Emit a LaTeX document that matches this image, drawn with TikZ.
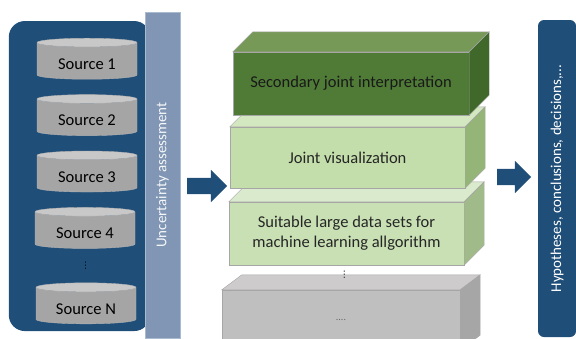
\documentclass[tikz,border=0pt]{standalone}
\usepackage{fontspec}
\setmainfont{Carlito}
\newfontfamily\symfont{DejaVu Sans}
\usetikzlibrary{positioning,fit,backgrounds,calc,shapes.geometric,shapes.arrows}
\definecolor{panelblue}{RGB}{31,78,121}
\definecolor{barblue}{RGB}{128,150,180}
\definecolor{barline}{RGB}{170,187,208}
\definecolor{dkgreen}{RGB}{79,123,55}
\definecolor{dkgreentop}{RGB}{118,153,88}
\definecolor{dkgreenside}{RGB}{64,104,42}
\definecolor{ltgreen}{RGB}{195,222,170}
\definecolor{ltgreentop}{RGB}{211,232,192}
\definecolor{ltgreenside}{RGB}{148,180,120}
\definecolor{palegreen}{RGB}{200,224,180}
\definecolor{palegreentop}{RGB}{218,234,204}
\definecolor{palegreenside}{RGB}{160,186,138}
\definecolor{slabgray}{RGB}{191,191,191}
\definecolor{slabgraytop}{RGB}{205,203,203}
\definecolor{slabgrayside}{RGB}{166,166,166}
\definecolor{dbbody}{RGB}{165,165,165}
\definecolor{dbend}{RGB}{200,200,200}
\tikzset{
    %Define style for the data sources
    srcdb/.style={
           cylinder,
           shape border rotate=90,
           aspect=0.15,
           draw=gray!60,
           cylinder uses custom fill,
           cylinder body fill=dbbody,
           cylinder end fill=dbend,
           minimum width=100pt,
           minimum height=41pt,
           text height=20pt,
           text depth=3pt,
           inner sep=0pt},
    %Define style for the stacked layers
    slab/.style={
           rectangle,
           draw=gray!70,
           minimum width=235pt,
           minimum height=62pt,
           align=center,
           text=black!85},
    % Define style for block arrows
    blockarrow/.style={
           single arrow,
           fill=panelblue,
           single arrow head extend=8pt,
           inner xsep=0pt,
           inner ysep=8pt},
    dotsmark/.style={
           font=\symfont\fontsize{9}{9}\selectfont,
           inner sep=0pt}
}
% side and top faces of a layer
\newcommand{\slabsides}[4]{%
  \filldraw[fill=#2, draw=gray!70] (#1.north west) -- ++(20,-#4)
    -- ($(#1.north east)+(20,-#4)$) -- (#1.north east) -- cycle;
  \filldraw[fill=#3, draw=gray!70] (#1.north east) -- ++(20,-#4)
    -- ($(#1.south east)+(20,-#4)$) -- (#1.south east) -- cycle;}
\begin{document}
\begin{tikzpicture}[x=1pt,y=-1pt,node distance=15pt,
                    font=\fontsize{16.5}{20}\selectfont]
    \useasboundingbox (0,0) rectangle (576,338);
    \clip (0,0) rectangle (576,338);
    \node (src1) [srcdb] at (87,61) {Source 1};
    \node (src2) [srcdb] [below=of src1] {Source 2};
    \node (src3) [srcdb] [below=of src2] {Source 3};
    \node (src4) [srcdb] [below=of src3,xshift=-2pt] {Source 4};
    \node (srcN) [srcdb] [below=34pt of src4,xshift=1pt] {Source N};
    \node (srcdots) [dotsmark] at ($(src4.south)!0.5!(srcN.north)$) {⋮};
    \begin{pgfonlayer}{background}
      \node (panel) [fill=panelblue,rounded corners=16pt,fit=(src1) (srcN),
      inner xsep=20pt,inner ysep=12pt,xshift=-7pt,yshift=5pt] {};
    \end{pgfonlayer}
    \node (ubar) [fill=barblue,draw=barline,rotate=90,minimum width=326pt,
          minimum height=35pt,text=white!92!barblue,
          font=\fontsize{15}{15}\selectfont] at (162.5,175)
          {Uncertainty assessment};
    \node (arrin) [blockarrow,minimum height=40pt] at (203,186) {};
    % layers, lowest first
    \node (others) [slab,fill=slabgray,minimum width=238pt,minimum height=60pt,
          text=black!60,font=\fontsize{10}{10}\selectfont] at (341,320) {....};
    \slabsides{others}{slabgraytop}{slabgrayside}{15}
    \node (suitable) [slab,fill=palegreen,minimum height=63pt] at (346.5,233.5)
          {Suitable large data sets for\\machine learning allgorithm};
    \slabsides{suitable}{palegreentop}{palegreenside}{20}
    \node (layerdots) [dotsmark] at ($(suitable.south)!0.4!(others.north)$) {⋮};
    \node (jointvis) [slab,fill=ltgreen,minimum height=61pt] at (347.5,157.5)
          {Joint visualization};
    \slabsides{jointvis}{ltgreentop}{ltgreenside}{20}
    \node (interp) [slab,fill=dkgreen,minimum width=236pt,minimum height=63pt,
          text=black!90] at (351,83.5)
          {Secondary joint interpretation};
    \slabsides{interp}{dkgreentop}{dkgreenside}{20}
    \node (arrout) [blockarrow,minimum height=34pt] at (510,177) {};
    \node (hyp) [fill=panelblue,rounded corners=6pt,rotate=90,
          minimum width=317pt,minimum height=38pt,text=white,
          font=\fontsize{15}{15}\selectfont] at (557,178.5)
          {Hypotheses, conclusions, decisions,...};
\end{tikzpicture}
\end{document}
